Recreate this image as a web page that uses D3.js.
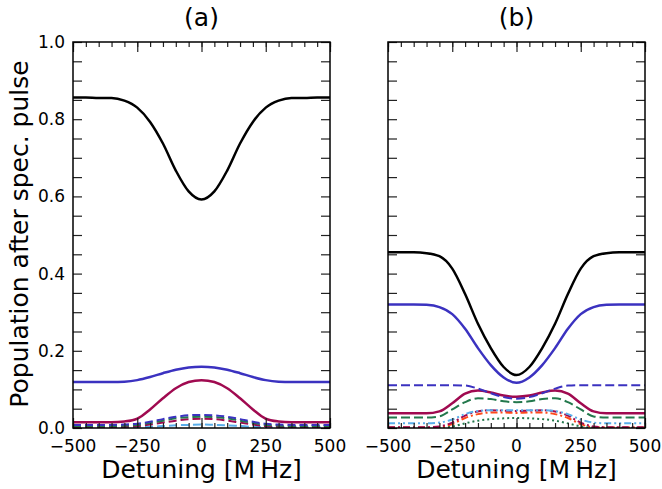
<!DOCTYPE html>
<html><head><meta charset="utf-8">
<script src="https://cdn.jsdelivr.net/npm/d3@7"></script>
<style>body{margin:0;background:#fff}svg{display:block}text{font-family:"DejaVu Sans",sans-serif}</style>
</head><body><svg id="c" width="662" height="489"></svg>
<script>
const detuning = [-500,-450,-400,-350,-300,-250,-200,-150,-100,-50,0,50,100,150,200,250,300,350,400,450,500];
const xTicks = [-500,-250,0,250,500];
const yTickLabels = ["0.0","0.2","0.4","0.6","0.8","1.0"];
const panelTitles = ["(a)","(b)"];

// panel (a)
const aBlack = [0.856,0.856,0.855,0.855,0.848,0.830,0.793,0.737,0.667,0.613,0.592,0.613,0.667,0.737,0.793,0.830,0.848,0.855,0.855,0.856,0.856];
const aBlue = [0.119,0.119,0.119,0.119,0.120,0.124,0.132,0.142,0.151,0.157,0.159,0.157,0.151,0.142,0.132,0.124,0.120,0.119,0.119,0.119,0.119];
const aCrimson = [0.015,0.015,0.015,0.015,0.017,0.024,0.048,0.077,0.103,0.119,0.124,0.119,0.103,0.077,0.048,0.024,0.017,0.015,0.015,0.015,0.015];
const aBlueDash = [0.008,0.008,0.008,0.008,0.009,0.011,0.016,0.023,0.029,0.033,0.034,0.033,0.029,0.023,0.016,0.011,0.009,0.008,0.008,0.008,0.008];
const aGreenDash = [0.005,0.005,0.005,0.005,0.006,0.008,0.013,0.019,0.025,0.028,0.029,0.028,0.025,0.019,0.013,0.008,0.006,0.005,0.005,0.005,0.005];
const aCrimsonDash = [0.002,0.002,0.002,0.002,0.003,0.005,0.009,0.014,0.019,0.023,0.024,0.023,0.019,0.014,0.009,0.005,0.003,0.002,0.002,0.002,0.002];
const aLightDash = [0.001,0.001,0.001,0.001,0.001,0.002,0.003,0.005,0.007,0.008,0.009,0.008,0.007,0.005,0.003,0.002,0.001,0.001,0.001,0.001,0.001];

// panel (b)
const bBlack = [0.455,0.455,0.455,0.453,0.445,0.413,0.347,0.270,0.207,0.158,0.137,0.158,0.207,0.270,0.347,0.413,0.445,0.453,0.455,0.455,0.455];
const bBlue = [0.320,0.320,0.320,0.319,0.313,0.295,0.257,0.207,0.163,0.131,0.117,0.131,0.163,0.207,0.257,0.295,0.313,0.319,0.320,0.320,0.320];
const bBlueDash = [0.111,0.111,0.111,0.111,0.111,0.111,0.110,0.102,0.090,0.080,0.076,0.080,0.090,0.102,0.110,0.111,0.111,0.111,0.111,0.111,0.111];
const bCrimson = [0.038,0.038,0.038,0.038,0.043,0.064,0.089,0.097,0.092,0.084,0.081,0.084,0.092,0.097,0.089,0.064,0.043,0.038,0.038,0.038,0.038];
const bGreenDash = [0.027,0.027,0.027,0.027,0.030,0.048,0.067,0.077,0.075,0.069,0.067,0.069,0.075,0.077,0.067,0.048,0.030,0.027,0.027,0.027,0.027];
const bLightDashDot = [0.012,0.012,0.012,0.012,0.014,0.022,0.036,0.044,0.046,0.046,0.046,0.046,0.046,0.044,0.036,0.022,0.014,0.012,0.012,0.012,0.012];
const bCrimsonDashDot = [0.002,0.002,0.002,0.002,0.004,0.014,0.032,0.043,0.046,0.045,0.044,0.045,0.046,0.043,0.032,0.014,0.004,0.002,0.002,0.002,0.002];
const bOrangeDashDot = [0.001,0.001,0.001,0.001,0.002,0.010,0.026,0.036,0.040,0.040,0.039,0.040,0.040,0.036,0.026,0.010,0.002,0.001,0.001,0.001,0.001];
const bGreenDot = [0.000,0.000,0.000,0.000,0.001,0.004,0.012,0.019,0.023,0.025,0.026,0.025,0.023,0.019,0.012,0.004,0.001,0.000,0.000,0.000,0.000];

const C = {black:"#000000", blue:"#3b32c0", crimson:"#a00a50", green:"#23784c", light:"#5aaeea", orange:"#ff4a1a"};
const panels = [
  {left:73, right:330, title:panelTitles[0], ylabels:true, series:[
    {v:aLightDash, c:C.light, w:2, d:"8,4"},
    {v:aCrimsonDash, c:C.crimson, w:2, d:"8,4"},
    {v:aGreenDash, c:C.green, w:2, d:"8,4"},
    {v:aBlueDash, c:C.blue, w:2, d:"8,4"},
    {v:aCrimson, c:C.crimson, w:2.5, d:null},
    {v:aBlue, c:C.blue, w:2.5, d:null},
    {v:aBlack, c:C.black, w:2.5, d:null}
  ]},
  {left:388, right:645, title:panelTitles[1], ylabels:false, series:[
    {v:bGreenDot, c:C.green, w:2, d:"2,3"},
    {v:bOrangeDashDot, c:C.orange, w:2, d:"7,3,2,3"},
    {v:bCrimsonDashDot, c:C.crimson, w:2, d:"7,3,2,3"},
    {v:bLightDashDot, c:C.light, w:2, d:"7,3,2,3,2,3"},
    {v:bGreenDash, c:C.green, w:2, d:"9,4"},
    {v:bCrimson, c:C.crimson, w:2.5, d:null},
    {v:bBlueDash, c:C.blue, w:2, d:"9,4"},
    {v:bBlue, c:C.blue, w:2.5, d:null},
    {v:bBlack, c:C.black, w:2.5, d:null}
  ]}
];
const plotTop = 42, plotBottom = 428;
const svg = d3.select("#c");
const y = d3.scaleLinear().domain([0,1]).range([plotBottom, plotTop]);

panels.forEach((p, i) => {
  const x = d3.scaleLinear().domain([-500,500]).range([p.left, p.right]);
  const g = svg.append("g");
  const cid = "clip" + i;
  svg.append("clipPath").attr("id", cid).append("rect")
    .attr("x", p.left).attr("y", plotTop).attr("width", p.right - p.left).attr("height", plotBottom - plotTop);
  const line = d3.line().x((d, k) => x(detuning[k])).y(d => y(d)).curve(d3.curveMonotoneX);
  const lg = g.append("g").attr("clip-path", `url(#${cid})`);
  p.series.forEach(s => {
    lg.append("path").attr("d", line(s.v)).attr("fill", "none")
      .attr("stroke", s.c).attr("stroke-width", s.w)
      .attr("stroke-dasharray", s.d).attr("stroke-linejoin", "round");
  });
  const xMinor = d3.range(-500, 501, 50);
  const yMinor = d3.range(0, 1.0001, 0.05);
  const tickStyle = sel => { sel.select(".domain").remove(); sel.selectAll("line").attr("stroke", "#222").attr("stroke-width", 1.2); };
  g.append("g").attr("transform", `translate(0,${plotBottom})`)
    .call(d3.axisTop(x).tickValues(xMinor).tickSize(5).tickFormat(""))
    .call(tickStyle);
  g.append("g").attr("transform", `translate(0,${plotBottom})`)
    .call(d3.axisTop(x).tickValues(xTicks).tickSize(10).tickFormat(""))
    .call(tickStyle);
  g.append("g").attr("transform", `translate(0,${plotTop})`)
    .call(d3.axisBottom(x).tickValues(xMinor).tickSize(5).tickFormat(""))
    .call(tickStyle);
  g.append("g").attr("transform", `translate(0,${plotTop})`)
    .call(d3.axisBottom(x).tickValues(xTicks).tickSize(10).tickFormat(""))
    .call(tickStyle);
  g.append("g").attr("transform", `translate(${p.left},0)`)
    .call(d3.axisRight(y).tickValues(yMinor).tickSize(9).tickFormat(""))
    .call(tickStyle);
  g.append("g").attr("transform", `translate(${p.right},0)`)
    .call(d3.axisLeft(y).tickValues(yMinor).tickSize(9).tickFormat(""))
    .call(tickStyle);
  g.append("rect").attr("x", p.left).attr("y", plotTop).attr("width", p.right - p.left).attr("height", plotBottom - plotTop)
    .attr("fill", "none").attr("stroke", "#000").attr("stroke-width", 1.5);
  g.selectAll(".xl").data(xTicks).enter().append("text")
    .attr("x", d => x(d)).attr("y", 452).attr("text-anchor", "middle")
    .attr("font-size", 17).text(d => d < 0 ? "\u2212" + Math.abs(d) : String(d));
  if (p.ylabels) {
    g.selectAll(".yl").data(yTickLabels).enter().append("text")
      .attr("x", p.left - 8).attr("y", (d) => y(+d) + 6).attr("text-anchor", "end")
      .attr("font-size", 17).text(d => d);
  }
  g.append("text").attr("x", (p.left + p.right) / 2).attr("y", 478).attr("text-anchor", "middle")
    .attr("font-size", 25).text("Detuning [M\u2009Hz]");
  g.append("text").attr("x", (p.left + p.right) / 2).attr("y", 26).attr("text-anchor", "middle")
    .attr("font-size", 25).text(p.title);
});
svg.append("text").attr("transform", `translate(28,${(plotTop + plotBottom) / 2 - 1}) rotate(-90)`)
  .attr("text-anchor", "middle").attr("font-size", 25).text("Population after spec. pulse");
</script></body></html>
